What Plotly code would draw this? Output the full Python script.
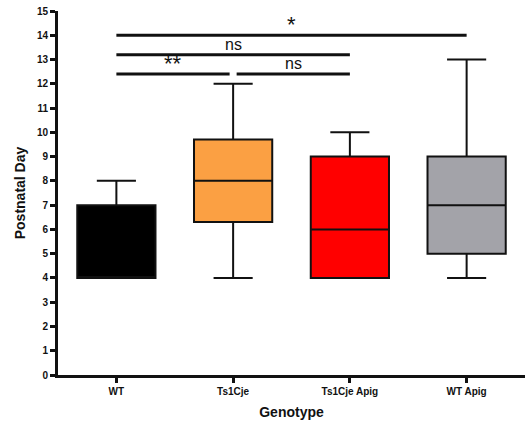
import plotly.graph_objects as go

# Summary statistics per genotype (postnatal day)
genotypes = ["WT", "Ts1Cje", "Ts1Cje Apig", "WT Apig"]
q1 = [4, 6.3, 4, 5]
median = [4, 8, 6, 7]
q3 = [7, 9.7, 9, 9]
lower = [4, 4, 4, 4]
upper = [8, 12, 10, 13]
colors = ["#000000", "#FBA043", "#FF0000", "#A3A3A9"]

# Significance comparisons: (from index, to index, y level, label)
sig_from = [0, 0, 0, 1.03]
sig_to = [3, 2, 0.97, 2]
sig_y = [14.0, 13.2, 12.4, 12.4]
sig_label = ["*", "ns", "**", "ns"]

fig = go.Figure()
for i, g in enumerate(genotypes):
    fig.add_trace(go.Box(
        x=[g], q1=[q1[i]], median=[median[i]], q3=[q3[i]],
        lowerfence=[lower[i]], upperfence=[upper[i]],
        fillcolor=colors[i],
        line=dict(color="#111111", width=2),
        width=0.67, whiskerwidth=0.5,
        boxpoints=False, showlegend=False, hoverinfo="skip",
    ))

for a, b, y, lab in zip(sig_from, sig_to, sig_y, sig_label):
    fig.add_shape(type="line", xref="x", yref="y", x0=a, x1=b, y0=y, y1=y,
                  line=dict(color="#111111", width=3))
    star = "*" in lab
    fig.add_annotation(x=(a + b) / 2, y=y, xref="x", yref="y", text=lab,
                       showarrow=False, yanchor="bottom",
                       yshift=-4 if star else 0,
                       font=dict(family="Liberation Sans", size=22 if star else 16,
                                 color="#111111"))

fig.update_layout(
    width=530, height=429,
    margin=dict(l=58, r=5, t=8, b=54),
    paper_bgcolor="white", plot_bgcolor="white",
    font=dict(family="Liberation Sans", color="#111111"),
    xaxis=dict(
        type="category", range=[-0.5, 3.5],
        showline=True, linecolor="#111111", linewidth=3,
        ticks="outside", ticklen=5, tickwidth=3, tickcolor="#111111",
        tickfont=dict(size=10, family="Liberation Sans", weight="bold"),
        title=dict(text="<b>Genotype</b>", font=dict(size=14), standoff=12),
        showgrid=False, zeroline=False,
    ),
    yaxis=dict(
        range=[0, 15], dtick=1,
        showline=True, linecolor="#111111", linewidth=3,
        ticks="outside", ticklen=5, tickwidth=3, tickcolor="#111111",
        tickfont=dict(size=10, family="Liberation Sans", weight="bold"),
        title=dict(text="<b>Postnatal Day</b>", font=dict(size=14), standoff=8),
        showgrid=False, zeroline=False,
    ),
)

fig.write_html("out.html")
